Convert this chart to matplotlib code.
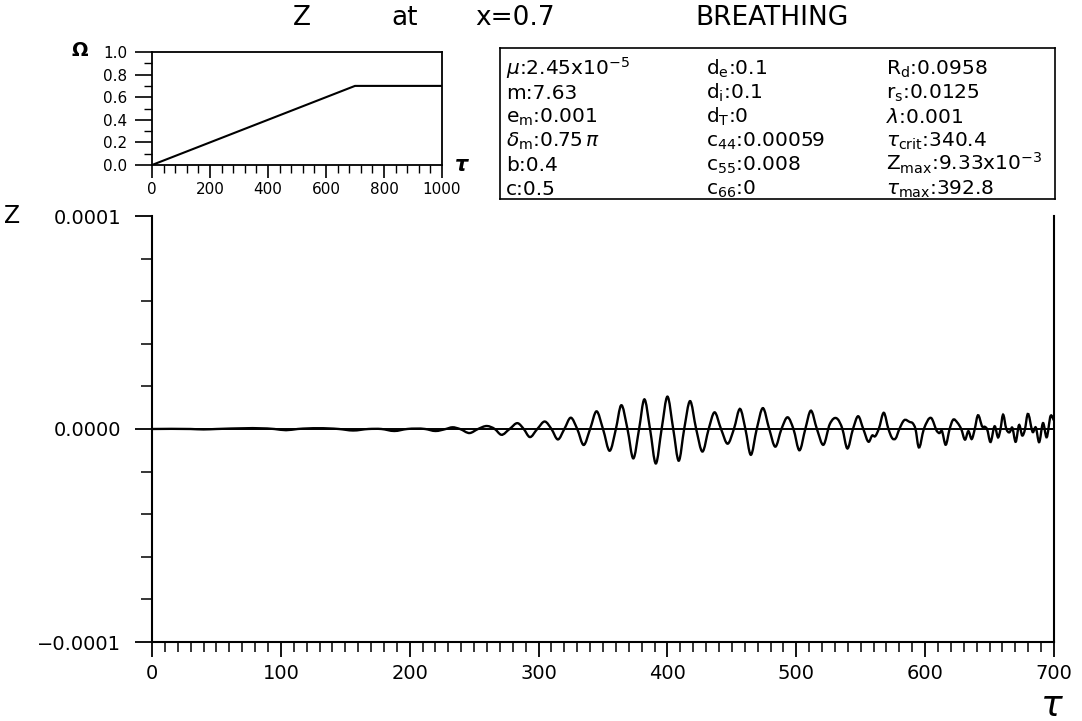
import numpy as np
import matplotlib
matplotlib.use("Agg")
import matplotlib.pyplot as plt
from matplotlib.path import Path
from matplotlib.patches import PathPatch

plt.rcParams['font.family'] = ['DejaVu Sans']
plt.rcParams['mathtext.fontset'] = 'dejavusans'

# inset: speed ramp Omega(tau)
omega_tau = [0, 700, 1000]
omega_val = [0.0, 0.7, 0.7]

# main trace, extrema and crossings (Z in units of 1e-5)
z_tau = [0, 30, 40, 50, 95, 104, 113, 145, 156, 168, 178, 188, 198, 212, 220, 228,
         233, 239, 246.5, 253, 260, 266, 271, 277.5, 284, 288.5, 293, 299, 305, 310,
         315, 320, 325, 330, 335, 340, 345, 350, 355.3, 360, 364, 369, 373.5, 378,
         382, 386.5, 391, 395.5, 400, 404.5, 408.8, 413, 417.5, 422.3, 427.2, 432,
         436.4, 441.6, 446.8, 451.6, 456.5, 460.5, 464.6, 469.3, 474, 479, 483.7,
         488.5, 493.3, 497.8, 502.5, 507, 511.2, 516, 521.1, 526, 532, 535.8, 539.5,
         544, 548, 552, 556.3, 559, 561, 564, 568, 571.5, 574.7, 577, 580, 583.7,
         588, 590.5, 592.5, 594.8, 599, 604.6, 609.5, 611.2, 612.8, 616, 619, 621.5,
         625, 628, 631, 633.5, 636.2, 638.5, 640.7, 644.5, 646.5, 648, 650.6, 654,
         656.8, 658.5, 660.3, 663, 665.6, 667.5, 670.3, 672.9, 675.4, 677.5, 679.3,
         683.7, 685.8, 688.4, 691.5, 694.3, 697.4, 700]
z_val = [0, 0, -0.02, 0, 0, -0.056, 0, 0, -0.07, 0, 0, -0.094, 0, 0, -0.094, 0,
         0.08, 0, -0.19, 0, 0.14, 0, -0.27, 0, 0.27, 0, -0.375, 0, 0.35, 0,
         -0.49, 0, 0.53, 0, -0.75, 0, 0.83, 0, -1.02, 0, 1.11, 0, -1.38, 0,
         1.39, 0, -1.62, 0, 1.52, 0, -1.49, 0, 1.31, 0, -1.06, 0,
         0.78, 0, -0.69, 0, 0.94, 0, -1.21, 0, 0.98, 0, -0.83,
         0, 0.55, 0, -1.0, 0, 0.86, 0, -0.74, 0.23, 0.47, 0, -0.91,
         0, 0.6, 0, -0.6, -0.3, -0.35, 0, 0.76, 0, -0.45, -0.45, 0, 0.41,
         0.33, 0.26, 0, -0.83, 0, 0.52, -0.13, -0.19, -0.08, -0.74, 0, 0.42,
         0.3, 0, -0.5, -0.1, -0.47, 0, 0.62, 0.1, 0.1, 0, -0.61, 0.13,
         -0.39, 0, 0.66, 0, -0.15, 0.07, -0.6, 0.19, -0.31, 0, 0.66,
         -0.15, 0.08, -0.62, 0.28, -0.39, 0.62, 0.4]

# parameter box text
col1 = [r'$\mu$:2.45x10$^{-5}$', 'm:7.63', r'e$_{\rm m}$:0.001',
        r'$\delta_{\rm m}$:0.75$\,\pi$', 'b:0.4', 'c:0.5']
col2 = [r'd$_{\rm e}$:0.1', r'd$_{\rm i}$:0.1', r'd$_{\rm T}$:0',
        r'c$_{44}$:0.00059', r'c$_{55}$:0.008', r'c$_{66}$:0']
col3 = [r'R$_{\rm d}$:0.0958', r'r$_{\rm s}$:0.0125', r'$\lambda$:0.001',
        r'$\tau_{\rm crit}$:340.4', r'Z$_{\rm max}$:9.33x10$^{-3}$',
        r'$\tau_{\rm max}$:392.8']

W, H = 1082, 721


def fx(px):
    return px / W


def fy(py):
    return 1 - py / H


def smooth_path(xs, ys):
    # cubic hermite through the read points, drawn as bezier segments
    xs = np.asarray(xs, float)
    ys = np.asarray(ys, float)
    m = np.gradient(ys, xs)
    verts = [(xs[0], ys[0])]
    codes = [Path.MOVETO]
    for i in range(len(xs) - 1):
        h = xs[i + 1] - xs[i]
        verts += [(xs[i] + h / 3, ys[i] + m[i] * h / 3),
                  (xs[i + 1] - h / 3, ys[i + 1] - m[i + 1] * h / 3),
                  (xs[i + 1], ys[i + 1])]
        codes += [Path.CURVE4] * 3
    return Path(verts, codes)


fig = plt.figure(figsize=(10.82, 7.21), dpi=100)

# ---- main axes
ax = fig.add_axes([fx(152), fy(642), fx(1054 - 152), (642 - 216) / H])
ax.set_xlim(0, 700)
ax.set_ylim(-1e-4, 1e-4)
ax.spines['top'].set_visible(False)
for s in ['left', 'bottom', 'right']:
    ax.spines[s].set_linewidth(1.5)
ax.axhline(0, color='black', lw=1.4)
zz = np.array(z_val) * 1e-5
ax.add_patch(PathPatch(smooth_path(z_tau, zz), fill=False, lw=1.7,
                       edgecolor='black', transform=ax.transData))

ax.set_xticks(range(0, 701, 100))
ax.set_xticks(range(0, 701, 10), minor=True)
ax.tick_params(axis='x', which='major', direction='out', length=11, width=1.3,
               labelsize=14, pad=5)
ax.tick_params(axis='x', which='minor', direction='out', length=7, width=1.1)
ax.set_yticks([-1e-4, 0, 1e-4])
ax.set_yticklabels(['\u22120.0001', '0.0000', '0.0001'])
ax.set_yticks(np.arange(-1e-4, 1.01e-4, 2e-5), minor=True)
ax.tick_params(axis='y', which='major', direction='out', length=12, width=1.3,
               labelsize=14, pad=10)
ax.tick_params(axis='y', which='minor', direction='out', length=8, width=1.1)

fig.text(fx(12), fy(216), 'Z', fontsize=17, ha='center', va='center')
fig.text(fx(1052), fy(706), '\u03c4', fontsize=26, style='italic',
         ha='center', va='center')

# ---- title
fig.text(fx(302), fy(18), 'Z', fontsize=19, ha='center', va='center')
fig.text(fx(405), fy(18), 'at', fontsize=19, ha='center', va='center')
fig.text(fx(515), fy(18), 'x=0.7', fontsize=19, ha='center', va='center')
fig.text(fx(772), fy(18), 'BREATHING', fontsize=19, ha='center', va='center')

# ---- inset
axi = fig.add_axes([fx(152), fy(165), fx(442 - 152), (165 - 52) / H])
axi.plot(omega_tau, omega_val, color='black', lw=1.5)
axi.set_xlim(0, 1000)
axi.set_ylim(0, 1)
for s in axi.spines.values():
    s.set_linewidth(1.3)
axi.set_xticks(range(0, 1001, 200))
axi.set_xticks(range(0, 1001, 40), minor=True)
axi.set_yticks(np.arange(0, 1.01, 0.2))
axi.set_yticklabels(['0.0', '0.2', '0.4', '0.6', '0.8', '1.0'])
axi.set_yticks(np.arange(0, 1.01, 0.1), minor=True)
axi.tick_params(axis='x', which='major', length=9, width=1.2, labelsize=11, pad=3)
axi.tick_params(axis='x', which='minor', length=6, width=1.0)
axi.tick_params(axis='y', which='major', length=12, width=1.2, labelsize=11, pad=6)
axi.tick_params(axis='y', which='minor', length=6, width=1.0)
fig.text(fx(80), fy(50), '\u03a9', fontsize=14, fontweight='bold',
         ha='center', va='center')
fig.text(fx(462), fy(165), '\u03c4', fontsize=15, fontweight='bold',
         style='italic', ha='center', va='center')

# ---- parameter box
axb = fig.add_axes([fx(500), fy(199), fx(1055 - 500), (199 - 48) / H])
axb.set_xticks([])
axb.set_yticks([])
for s in axb.spines.values():
    s.set_linewidth(1.2)
rows_y = [75, 99, 123, 147, 171, 195]
for xcol, col in [(506, col1), (706, col2), (886, col3)]:
    for yy, txt in zip(rows_y, col):
        fig.text(fx(xcol), fy(yy), txt, fontsize=14.5, ha='left', va='baseline')

fig.savefig('out.png', dpi=100)
plt.close(fig)
